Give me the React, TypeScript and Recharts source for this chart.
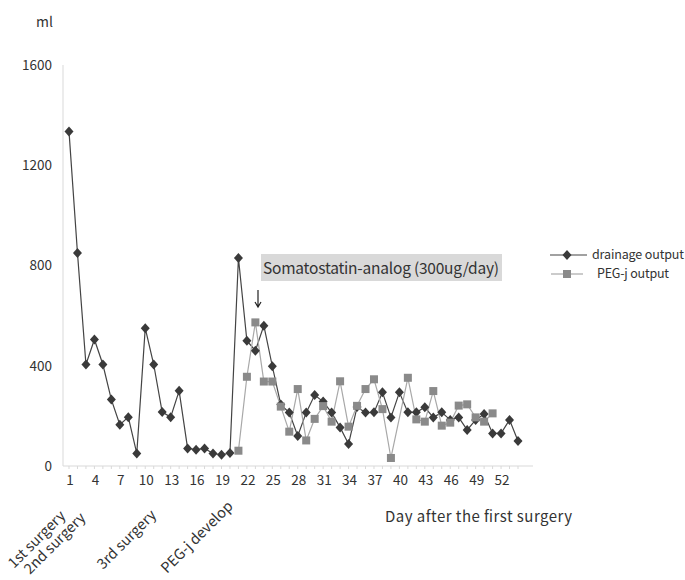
import { LineChart, Line, XAxis, YAxis } from "recharts";

const FONT = "'Noto Sans CJK JP', 'Noto Sans', sans-serif";

const days = [
  1, 2, 3, 4, 5, 6, 7, 8, 9, 10, 11, 12, 13, 14, 15, 16, 17, 18, 19, 20,
  21, 22, 23, 24, 25, 26, 27, 28, 29, 30, 31, 32, 33, 34, 35, 36, 37, 38, 39, 40,
  41, 42, 43, 44, 45, 46, 47, 48, 49, 50, 51, 52, 53, 54,
];

const drainage = [
  1335, 850, 405, 505, 405, 265, 165, 195, 50, 550, 405, 215, 195, 300, 70, 65, 70, 50, 45, 52,
  830, 500, 460, 560, 398, 245, 213, 120, 213, 283, 257, 213, 154, 88, 235, 213, 214, 294, 194, 294,
  214, 214, 234, 194, 214, 184, 194, 144, 184, 207, 130, 130, 184, 100,
];

const pegj = [
  null, null, null, null, null, null, null, null, null, null, null, null, null, null, null, null, null, null, null, null,
  61, 356, 573, 337, 337, 237, 137, 307, 102, 188, 239, 177, 338, 157, 240, 307, 346, 227, 32, null,
  352, 186, 177, 299, 161, 173, 241, 246, 194, 177, 210, null, null, null,
];

const yTicks = [0, 400, 800, 1200, 1600];

const rows = days.map((d, i) => ({ day: d, drainage: drainage[i], peg: pegj[i] }));

const Diamond = (props: any) => {
  const { cx, cy, index } = props;
  if (cx == null || cy == null) return <g key={"d" + index} />;
  return (
    <path
      key={"d" + index}
      d={`M${cx},${cy - 5} L${cx + 4.5},${cy} L${cx},${cy + 5} L${cx - 4.5},${cy} Z`}
      fill="#3a3a3a"
    />
  );
};

const Square = (props: any) => {
  const { cx, cy, index, value } = props;
  if (cx == null || cy == null || value == null) return <g key={"s" + index} />;
  return <rect key={"s" + index} x={cx - 4} y={cy - 4} width={8} height={8} fill="#8a8a8a" />;
};

const DayTick = (props: any) => {
  const { x, y, payload } = props;
  const idx = props.index ?? payload?.index ?? 0;
  if (idx % 3 !== 0) return <g />;
  return (
    <text x={x + 1} y={y + 4} dy="0.71em" textAnchor="middle" fontSize={13.5} fill="#333" fontFamily={FONT}>
      {payload.value}
    </text>
  );
};

// rotated event labels under the axis
const events = [
  { text: "1st surgery", x: 14, y: 569 },
  { text: "2nd surgery", x: 30, y: 575 },
  { text: "3rd surgery", x: 103, y: 570 },
  { text: "PEG-j develop", x: 167, y: 574 },
];

export default function App() {
  return (
    <div style={{ position: "absolute", left: 0, top: 0, width: 685, height: 580, background: "#fff" }}>
      <LineChart width={685} height={580} data={rows} margin={{ top: 65, right: 152, bottom: 84, left: 23 }}>
        <XAxis
          dataKey="day"
          interval={0}
          height={30}
          padding={{ left: 6, right: 15 }}
          axisLine={{ stroke: "#d9d9d9" }}
          tickLine={{ stroke: "#d9d9d9" }}
          tickSize={3}
          tickMargin={2}
          tick={<DayTick />}
        />
        <YAxis
          domain={[0, 1600]}
          ticks={yTicks}
          width={40}
          tickLine={false}
          tickSize={0}
          tickMargin={11}
          axisLine={{ stroke: "#d9d9d9" }}
          tick={{ fontSize: 13.5, fill: "#333", fontFamily: FONT }}
        />
        <Line
          dataKey="drainage"
          stroke="#444"
          strokeWidth={1.2}
          dot={<Diamond />}
          isAnimationActive={false}
        />
        <Line
          dataKey="peg"
          stroke="#a8a8a8"
          strokeWidth={1.2}
          connectNulls
          dot={<Square />}
          isAnimationActive={false}
        />
      </LineChart>
      <svg
        width={685}
        height={580}
        style={{ position: "absolute", left: 0, top: 0, pointerEvents: "none" }}
        fontFamily={FONT}
      >
        <text x={36} y={27} fontSize={14} fill="#333">ml</text>

        <rect x={261} y={254} width={241} height={27} fill="#d9d9d9" />
        <text x={263} y={274} fontSize={15.5} fill="#333" textLength={236}>Somatostatin-analog (300ug/day)</text>
        <path d="M258,290 L258,306 M255,302 L258,307 L261,302" stroke="#222" strokeWidth={1.2} fill="none" />

        <line x1={550} y1={255} x2={587} y2={255} stroke="#444" strokeWidth={1.2} />
        <path d="M567,250 L571.5,255 L567,260 L562.5,255 Z" fill="#3a3a3a" />
        <text x={592} y={259} fontSize={12.5} fill="#333" textLength={92}>drainage output</text>
        <line x1={551} y1={274} x2={583} y2={274} stroke="#a8a8a8" strokeWidth={1.2} />
        <rect x={563} y={270} width={8} height={8} fill="#8a8a8a" />
        <text x={597} y={278} fontSize={12.5} fill="#333" textLength={72}>PEG-j output</text>

        <text x={385} y={522} fontSize={15} fill="#333" textLength={187}>Day after the first surgery</text>

        {events.map((e) => (
          <text
            key={e.text}
            x={e.x}
            y={e.y}
            fontSize={14.5}
            fill="#333"
            transform={`rotate(-45 ${e.x} ${e.y})`}
          >
            {e.text}
          </text>
        ))}
      </svg>
    </div>
  );
}
